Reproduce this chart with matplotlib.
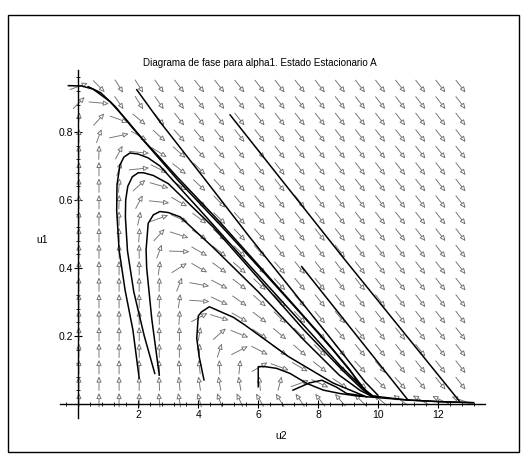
import numpy as np
import matplotlib.pyplot as plt
from matplotlib.patches import FancyArrowPatch, Rectangle

plt.rcParams['font.family'] = ['Liberation Sans', 'DejaVu Sans']

# grid of the direction field
u2_grid = np.linspace(0.02, 12.75, 20)
u1_grid = np.linspace(0.012, 0.934, 20)

# screen angle (deg) of each arrow, rows from top (u1=0.93) down to u1=0.01
angles = [
    [20, -45, -58, -58, -55, -53, -52, -52, -52, -52, -52, -52, -52, -52, -52, -52, -52, -52, -52, -52],
    [45, -5, -55, -58, -55, -53, -52, -52, -52, -52, -52, -52, -52, -52, -52, -52, -52, -52, -52, -52],
    [85, 48, -20, -40, -50, -52, -52, -52, -52, -52, -52, -52, -52, -52, -52, -52, -52, -52, -52, -52],
    [90, 70, 12, -30, -42, -48, -50, -52, -52, -52, -52, -52, -52, -52, -52, -52, -52, -52, -52, -52],
    [90, 88, 62, -6, -32, -42, -47, -50, -52, -52, -52, -52, -52, -52, -52, -52, -52, -52, -52, -52],
    [90, 90, 72, 6, -26, -38, -45, -49, -52, -52, -52, -52, -52, -52, -52, -52, -52, -52, -52, -52],
    [90, 90, 85, 42, -16, -34, -43, -47, -50, -52, -52, -52, -52, -52, -52, -52, -52, -52, -52, -52],
    [90, 90, 88, 62, -6, -30, -41, -46, -49, -51, -52, -52, -52, -52, -52, -52, -52, -52, -52, -52],
    [90, 90, 90, 78, 20, -24, -37, -44, -48, -50, -52, -52, -52, -52, -52, -52, -52, -52, -52, -52],
    [90, 90, 90, 86, 48, -18, -34, -42, -46, -49, -51, -52, -52, -52, -52, -52, -52, -52, -52, -52],
    [90, 90, 90, 90, 70, -2, -30, -38, -44, -47, -50, -51, -52, -52, -52, -52, -52, -52, -52, -52],
    [90, 90, 90, 90, 82, 32, -30, -36, -41, -46, -49, -51, -52, -52, -52, -52, -52, -52, -52, -52],
    [90, 90, 90, 90, 88, 68, -10, -28, -38, -43, -47, -50, -51, -52, -52, -52, -52, -52, -52, -52],
    [90, 90, 90, 90, 90, 82, -4, -25, -35, -42, -46, -49, -51, -52, -52, -52, -52, -52, -52, -52],
    [90, 90, 90, 90, 90, 86, 28, -17, -30, -38, -44, -47, -50, -51, -52, -52, -52, -52, -52, -52],
    [90, 90, 90, 90, 90, 90, 80, 41, -22, -33, -40, -45, -48, -50, -51, -52, -52, -52, -52, -52],
    [90, 90, 90, 90, 90, 90, 88, 72, 27, -27, -35, -41, -45, -48, -50, -51, -52, -52, -52, -52],
    [90, 90, 90, 90, 92, 94, 96, 92, 84, 30, -20, -30, -38, -44, -47, -50, -52, -52, -52, -52],
    [90, 90, 90, 90, 92, 95, 98, 100, 100, 95, 75, 20, -25, -34, -40, -45, -48, -50, -51, -52],
    [90, 90, 90, 90, 95, 100, 105, 110, 115, 120, 122, 125, 128, 130, 135, 140, 145, 150, 155, 160],
]

# trajectories (u2, u1)
traj_u2 = [
    [-0.33, 0.11, 0.49, 1.06, 1.61, 2.17, 2.72, 3.28, 4.72, 6.06, 7.39, 8.39, 9.06, 9.46, 9.79, 10.95, 12.06, 13.17],
    [0.33, 0.75, 1.25, 1.75, 3.35, 4.8, 6.15, 7.5, 8.5, 9.15, 9.55, 9.85],
    [1.95, 2.72, 3.28, 4.28, 5.72, 7.39, 8.72, 9.56, 9.99],
    [5.06, 8.89, 12.72],
    [7.45, 10.99],
    [2.03, 1.82, 1.56, 1.36, 1.28, 1.29, 1.39, 1.52, 1.72, 1.99, 2.32, 2.72, 4.06, 5.72, 7.39, 8.72, 9.39, 9.79],
    [2.55, 2.2, 1.85, 1.64, 1.57, 1.58, 1.65, 1.8, 2.0, 2.17, 2.5, 3.0, 4.5, 6.0, 7.5, 8.8, 9.45, 9.8],
    [2.7, 2.45, 2.28, 2.26, 2.33, 2.5, 2.72, 3.0, 3.4, 4.5, 6.0, 7.5, 8.7, 9.4, 9.8],
    [4.19, 4.03, 3.95, 4.0, 4.11, 4.37, 5.17, 5.56, 7.0, 8.49, 9.61],
    [6.0, 6.0, 6.22, 6.61, 7.06, 7.61, 8.17, 8.72, 9.28, 9.83, 10.95, 12.06, 13.17],
    [7.16, 7.7, 8.12, 8.6, 8.95, 9.5],
]
traj_u1 = [
    [0.936, 0.935, 0.926, 0.889, 0.835, 0.776, 0.724, 0.669, 0.535, 0.403, 0.271, 0.171, 0.100, 0.047, 0.024, 0.012, 0.007, 0.004],
    [0.933, 0.915, 0.873, 0.818, 0.655, 0.52, 0.39, 0.258, 0.158, 0.088, 0.042, 0.022],
    [0.924, 0.83, 0.767, 0.654, 0.49, 0.306, 0.159, 0.065, 0.026],
    [0.85, 0.424, 0.007],
    [0.404, 0.012],
    [0.076, 0.218, 0.335, 0.453, 0.57, 0.644, 0.703, 0.726, 0.738, 0.735, 0.724, 0.70, 0.57, 0.406, 0.244, 0.114, 0.056, 0.024],
    [0.09, 0.2, 0.33, 0.45, 0.55, 0.60, 0.64, 0.668, 0.68, 0.68, 0.672, 0.648, 0.52, 0.37, 0.22, 0.1, 0.045, 0.022],
    [0.085, 0.25, 0.40, 0.453, 0.531, 0.556, 0.566, 0.563, 0.55, 0.46, 0.33, 0.19, 0.085, 0.04, 0.022],
    [0.071, 0.139, 0.193, 0.259, 0.271, 0.286, 0.255, 0.232, 0.14, 0.062, 0.021],
    [0.051, 0.11, 0.11, 0.105, 0.09, 0.061, 0.041, 0.031, 0.024, 0.02, 0.012, 0.007, 0.004],
    [0.041, 0.062, 0.07, 0.05, 0.031, 0.024],
]

fig = plt.figure(figsize=(5.27, 4.57), dpi=100)
ax = fig.add_axes([59.7 / 527, 39 / 457, 425.3 / 527, 348 / 457])
ax.set_xlim(-0.62, 13.56)
ax.set_ylim(-0.041, 0.982)

# pixels per data unit
px_x = 425.3 / (13.56 + 0.62)
px_y = 348 / (0.982 + 0.041)

for j, row in enumerate(angles):
    u1 = u1_grid[19 - j]
    for i, th in enumerate(row):
        u2 = u2_grid[i]
        t = np.radians(th)
        L = 1 / np.sqrt((np.cos(t) / 20) ** 2 + (np.sin(t) / 14) ** 2)
        dx = 0.5 * L * np.cos(t) / px_x
        dy = 0.5 * L * np.sin(t) / px_y
        ar = FancyArrowPatch((u2 - dx, u1 - dy), (u2 + dx, u1 + dy),
                             arrowstyle='-|>,head_length=0.55,head_width=0.25',
                             mutation_scale=6, lw=0.65, ec='#707070', fc='white',
                             shrinkA=0, shrinkB=0, zorder=2)
        ax.add_patch(ar)

for xs, ys in zip(traj_u2, traj_u1):
    ax.plot(xs, ys, color='black', lw=1.1, zorder=3)

for s in ['top', 'right']:
    ax.spines[s].set_visible(False)
ax.spines['left'].set_position(('data', 0))
ax.spines['bottom'].set_position(('data', 0))
ax.spines['left'].set_linewidth(1)
ax.spines['bottom'].set_linewidth(1)

ax.set_xticks([2, 4, 6, 8, 10, 12])
ax.set_yticks([0.2, 0.4, 0.6, 0.8])
ax.set_yticklabels(['0.2', '0.4', '0.6', '0.8'])
ax.set_xticks(np.arange(-0.4, 13.5, 0.4), minor=True)
ax.set_yticks(np.arange(0.04, 0.97, 0.04), minor=True)
ax.tick_params(which='major', direction='inout', length=6, width=0.8, labelsize=7.5, pad=1)
ax.tick_params(which='minor', direction='inout', length=3, width=0.6)
ax.patch.set_alpha(0)

fig.text(260 / 527, 1 - 63 / 457, 'Diagrama de fase para alpha1. Estado Estacionario A',
         ha='center', va='center', fontsize=7.1)
fig.text(41.7 / 527, 1 - 240 / 457, 'u1', ha='center', va='center', fontsize=7.5)
fig.text(281 / 527, 1 - 436 / 457, 'u2', ha='center', va='center', fontsize=7.5)

fig.patches.append(Rectangle((8 / 527, 5 / 457), 511 / 527, 437 / 457, transform=fig.transFigure,
                             fill=False, ec='black', lw=1))

fig.savefig('out.png', dpi=100)
